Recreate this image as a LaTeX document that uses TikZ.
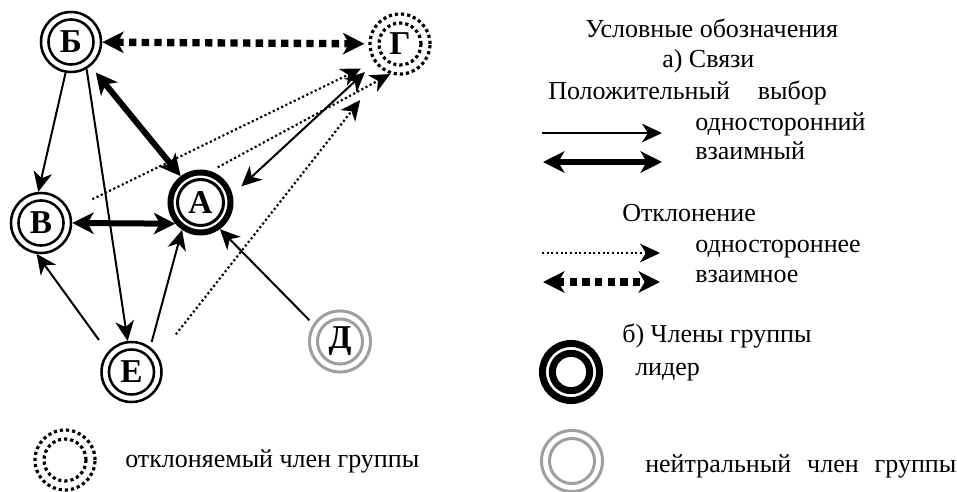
\documentclass[tikz,border=0pt]{standalone}
\usepackage{fontspec}
\setmainfont{Liberation Serif}
\usetikzlibrary{arrows.meta}

\tikzset{
  headthin/.tip={Stealth[length=15pt,width=14pt,inset=4.5pt]},
  headthick/.tip={Stealth[length=16pt,width=16pt,inset=4.5pt]},
  member/.style={circle, draw, line width=1.9pt, minimum size=45pt, inner sep=0pt,
    font=\fontsize{25}{25}\selectfont\bfseries,
    path picture={\draw[line width=1.9pt] (path picture bounding box.center) circle (16.9pt);}},
  leader/.style={member, line width=4.5pt,
    path picture={\draw[line width=2.25pt] (path picture bounding box.center) circle (17.25pt);}},
  leaderkey/.style={member, line width=5.25pt, minimum size=42.8pt,
    path picture={\draw[line width=5.25pt] (path picture bounding box.center) circle (14pt);}},
  outcast/.style={member, line width=2.4pt, dash pattern=on 2.4pt off 2.2pt,
    path picture={\draw[line width=2.4pt] (path picture bounding box.center) circle (15.75pt);}},
  neutral/.style={member, draw=gray!75, line width=2.25pt, minimum size=45.8pt,
    path picture={\draw[gray!75, line width=2.25pt] (path picture bounding box.center) circle (16.9pt);}},
  choice/.style={-headthin, line width=1.5pt},
  choiceboth/.style={headthin-headthin, line width=1.5pt},
  mutual/.style={headthick-headthick, line width=4.5pt},
  reject/.style={-headthin, line width=1.6pt, dash pattern=on 1.6pt off 1.9pt},
  rejectboth/.style={headthick-headthick, line width=5.5pt, dash pattern=on 5.5pt off 4pt},
  legtext/.style={anchor=base west, inner sep=0pt, font=\fontsize{19.5}{22}\selectfont}
}

\begin{document}
\begin{tikzpicture}[x=0.75pt, y=-0.75pt]
  \useasboundingbox (0,0) rectangle (957,492);

  % group members
  \node[member] (B) at (71,42) {Б};
  \node[outcast] (G) at (400,44) {Г};
  \node[leader] (A) at (200.5,202.5) {А};
  \node[member] (V) at (41,223) {В};
  \node[member] (E) at (131.5,372) {Е};
  \node[neutral] (D) at (340,341.5) {Д};

  % positive choices
  \draw[choice] (B.260) -- (V.95);
  \draw[choice] (B.-60) -- (E.97);
  \draw[choice, shorten <=11pt] (E.140) -- (V.262);
  \draw[choice, shorten <=4pt] (E.53) -- (A.236);
  \draw[choice, shorten <=4pt] (D.147) -- (A.-54);
  \draw[choiceboth, shorten <=9pt, shorten >=10pt] (A.14) -- (G.217);
  \draw[mutual, shorten <=6pt] (B.-51) -- (A.127);
  \draw[mutual] (V.east) -- (A.220);

  % rejections
  \draw[rejectboth, shorten >=3pt] (B) -- (G);
  \draw[reject, shorten <=19pt, shorten >=11pt] (V.24) -- (G.215);
  \draw[reject, shorten <=6pt] (A.72) -- (G.252);
  \draw[reject, shorten <=21pt, shorten >=28pt] (E.30) -- (G.238);

  % legend
  \node[legtext] (title) at (585,38) {Условные обозначения};
  \node[legtext] (links) at (662,68) {а) Связи};
  \node[legtext] (posline) at (548,99) {Положительный\hspace{21pt}выбор};
  \coordinate (k1s) at (542,133);
  \coordinate (k1e) at (662,133);
  \draw[choice] (k1s) -- (k1e);
  \node[legtext] (one) at (695,130) {односторонний};
  \coordinate (k2s) at (543,162);
  \coordinate (k2e) at (662,162);
  \draw[mutual] (k2s) -- (k2e);
  \node[legtext] (both) at (695,159) {взаимный};

  \node[legtext] (negline) at (622,221) {Отклонение};
  \coordinate (k3s) at (542,253);
  \coordinate (k3e) at (660,253);
  \draw[reject] (k3s) -- (k3e);
  \node[legtext] (oneneg) at (695,252) {одностороннее};
  \coordinate (k4s) at (543,282);
  \coordinate (k4e) at (660,282);
  \draw[rejectboth] (k4s) -- (k4e);
  \node[legtext] (bothneg) at (695,282) {взаимное};

  \node[legtext] (members) at (622,342) {б) Члены группы};
  \node[leaderkey] (keylead) at (571,372) {};
  \node[legtext] (lead) at (635,375) {лидер};
  \node[neutral] (keyneut) at (572,461) {};
  \node[legtext] (neut) at (645,472) {нейтральный\hspace{12pt}член\hspace{12pt}группы};
  \node[outcast] (keyout) at (65,460) {};
  \node[legtext] (outmem) at (125,467) {отклоняемый член группы};
\end{tikzpicture}
\end{document}
